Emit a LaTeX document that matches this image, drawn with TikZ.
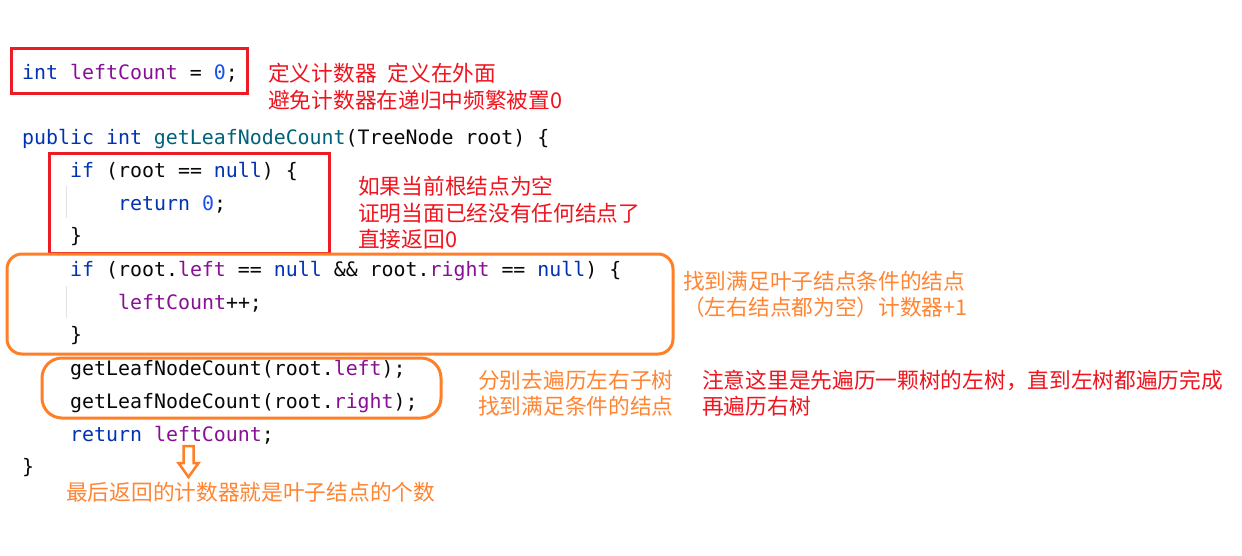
\documentclass[tikz,border=0pt]{standalone}
\usepackage{fontspec}
\newfontfamily\codefont{DejaVu Sans Mono}
\newfontfamily\cjk{Noto Sans CJK SC}
\definecolor{kwc}{HTML}{0033B3}
\definecolor{numc}{HTML}{1750EB}
\definecolor{fldc}{HTML}{871094}
\definecolor{declc}{HTML}{00627A}
\definecolor{txtc}{HTML}{080808}
\definecolor{boxred}{HTML}{ED1C24}
\definecolor{txtred}{HTML}{F0141E}
\definecolor{boxorange}{HTML}{FF7F27}
\definecolor{txtorange}{HTML}{FF8533}
\definecolor{guide}{HTML}{E2E2E2}
\newcommand{\KW}[1]{\textcolor{kwc}{#1}}
\newcommand{\NUM}[1]{\textcolor{numc}{#1}}
\newcommand{\FLD}[1]{\textcolor{fldc}{#1}}
\newcommand{\DECL}[1]{\textcolor{declc}{#1}}
\tikzset{
  code/.style={anchor=base west, inner sep=0pt, text=txtc,
    font=\codefont\fontsize{19.9pt}{24pt}\selectfont},
  note/.style={anchor=base west, inner sep=0pt,
    font=\cjk\fontsize{21.7pt}{26pt}\selectfont},
  rednote/.style={note, text=txtred},
  orangenote/.style={note, text=txtorange},
  redbox/.style={draw=boxred, line width=3pt},
  orangebox/.style={draw=boxorange, line width=3pt},
  guideline/.style={draw=guide, line width=1pt},
}
\begin{document}
\begin{tikzpicture}[x=1pt,y=-1pt]
\useasboundingbox[fill=white] (0,0) rectangle (1242,555);

% code
\node[code] (l1) at (22,79) {\KW{int} \FLD{leftCount} = \NUM{0};};
\node[code] (l2) at (22,144) {\KW{public} \KW{int} \DECL{getLeafNodeCount}(TreeNode root) \{};
\node[code] (l3) at (70,177) {\KW{if} (root == \KW{null}) \{};
\node[code] (l4) at (118,210) {\KW{return} \NUM{0};};
\node[code] (l5) at (70,242) {\}};
\node[code] (l6) at (70,276) {\KW{if} (root.\FLD{left} == \KW{null} \&\& root.\FLD{right} == \KW{null}) \{};
\node[code] (l7) at (118,309) {\FLD{leftCount}++;};
\node[code] (l8) at (70,341) {\}};
\node[code] (l9) at (70,375) {getLeafNodeCount(root.\FLD{left});};
\node[code] (l10) at (70,408) {getLeafNodeCount(root.\FLD{right});};
\node[code] (l11) at (70,441) {\KW{return} \FLD{leftCount};};
\node[code] (l12) at (22,473) {\}};

% indent guides
\draw[guideline] (66.5,186) -- (66.5,218);
\draw[guideline] (66.5,286) -- (66.5,318);

% boxes
\draw[redbox] (11,48) rectangle (247,93);
\draw[redbox] (49,153) rectangle (329,253);
\draw[orangebox, rounded corners=15pt] (7,254) rectangle (673,354);
\draw[orangebox, rounded corners=20pt] (42,358) rectangle (441,418);

% hollow arrow
\draw[draw=boxorange, line width=2.5pt, fill=white, line join=miter]
  (183.5,446) -- (193.5,446) -- (193.5,463) -- (198.5,463) -- (188.5,477)
  -- (178.5,463) -- (183.5,463) -- cycle;

% notes
\node[rednote] (n1a) at (268,81) {定义计数器\hspace{11pt}定义在外面};
\node[rednote] (n1b) at (268,108) {避免计数器在递归中频繁被置0};
\node[rednote] (n2a) at (358,194) {如果当前根结点为空};
\node[rednote] (n2b) at (358,221) {证明当面已经没有任何结点了};
\node[rednote] (n2c) at (358,247) {直接返回0};
\node[orangenote] (n3a) at (683,289) {找到满足叶子结点条件的结点};
\node[orangenote] (n3b) at (683,315) {（左右结点都为空）计数器+1};
\node[orangenote] (n4a) at (478,388) {分别去遍历左右子树};
\node[orangenote] (n4b) at (478,414) {找到满足条件的结点};
\node[rednote] (n5a) at (702,388) {注意这里是先遍历一颗树的左树，直到左树都遍历完成};
\node[rednote] (n5b) at (702,414) {再遍历右树};
\node[orangenote] (n6) at (66,500) {最后返回的计数器就是叶子结点的个数};
\end{tikzpicture}
\end{document}
